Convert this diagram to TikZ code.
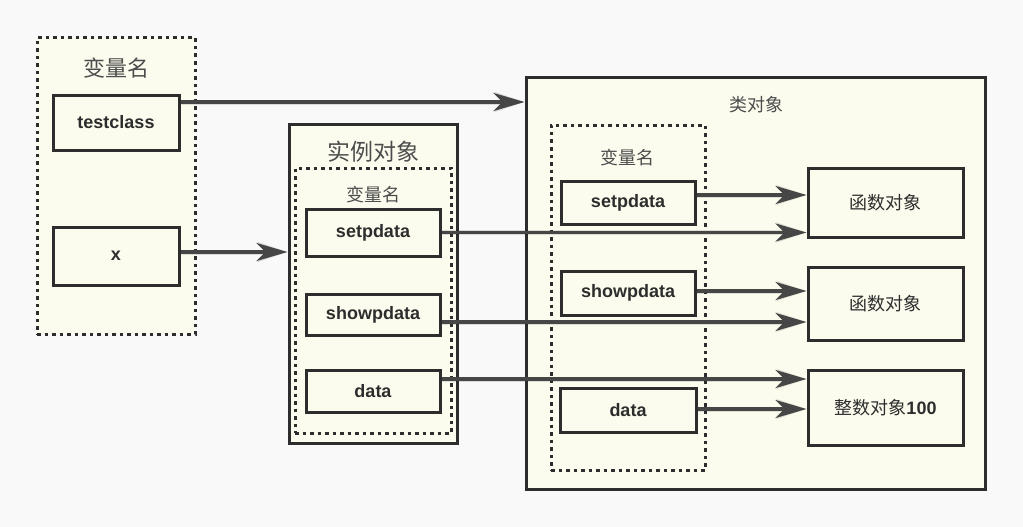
\documentclass[tikz,border=0pt]{standalone}
\usepackage{fontspec}
\setmainfont{Liberation Sans}
\newfontfamily\cjk{Noto Sans CJK SC}
\usetikzlibrary{arrows.meta}
\definecolor{ivory}{RGB}{252,252,238}
\definecolor{bg}{RGB}{249,249,249}
\definecolor{ink}{RGB}{45,45,45}
\definecolor{arr}{RGB}{70,70,70}
\tikzset{
  box/.style={draw=ink, line width=3pt, fill=ivory, rectangle, inner sep=0pt, font=\bfseries\fontsize{18}{21}\selectfont, text=ink},
  dotbox/.style={draw=ink, line width=3pt, fill=ivory, rectangle, inner sep=0pt, dash pattern=on 3.5pt off 4pt},
  solidbox/.style={draw=ink, line width=3pt, fill=ivory, rectangle, inner sep=0pt},
  cjklabel/.style={text=ink!85, inner sep=0pt},
  link/.style={draw=arr, line width=3.2pt, -{Stealth[length=31pt,width=18pt,inset=9pt]}},
  linkshadow/.style={draw=black, opacity=0.12, line width=5pt, -{Stealth[length=30pt,width=20pt,inset=9pt]}}
}
\newcommand{\pbox}[6]{% name, x1, y1, x2, y2, style
  \node[#6, minimum width={(#4-#2)*1pt}, minimum height={(#5-#3)*1pt}] (#1) at ({(#2+#4)/2},{(#3+#5)/2}) {};}
\begin{document}
\begin{tikzpicture}[x=1pt,y=-1pt]
\fill[bg] (0,0) rectangle (1023,527);
\useasboundingbox (0,0) rectangle (1023,527);
% left variable names
\pbox{vars}{37}{38}{195}{334}{dotbox}
\node[cjklabel, font=\cjk\fontsize{22}{25}\selectfont] (varsl) at (116,68) {变量名};
\node[box, minimum width=126pt, minimum height=55pt] (tc) at (116,122.5) {testclass};
\node[box, minimum width=126pt, minimum height=58pt] (xv) at (116,256) {x};
% instance object
\pbox{inst}{289}{124}{457}{443}{solidbox}
\node[cjklabel, font=\cjk\fontsize{23}{26}\selectfont] (instl) at (373,152) {实例对象};
\pbox{ivars}{295}{168}{451}{433}{dotbox}
\node[cjklabel, font=\cjk\fontsize{18}{21}\selectfont] (ivarsl) at (373,195) {变量名};
\node[box, minimum width=134pt, minimum height=47pt] (is) at (373,232.5) {setpdata};
\node[box, minimum width=134pt, minimum height=41pt] (ish) at (373,314.5) {showpdata};
\node[box, minimum width=134pt, minimum height=42pt] (id) at (373,391) {data};
% class object
\pbox{cls}{526}{78}{985}{489}{solidbox}
\node[cjklabel, font=\cjk\fontsize{18}{21}\selectfont] (clsl) at (756,105) {类对象};
\pbox{cvars}{551}{125}{705}{470}{dotbox}
\node[cjklabel, font=\cjk\fontsize{18}{21}\selectfont] (cvarsl) at (627,158) {变量名};
\node[box, minimum width=134pt, minimum height=43pt] (cs) at (628,202.5) {setpdata};
\node[box, minimum width=134pt, minimum height=44pt] (csh) at (628,293) {showpdata};
\node[box, minimum width=136pt, minimum height=44pt] (cd) at (628,410) {data};
\node[box, minimum width=155pt, minimum height=69pt, font=\cjk\fontsize{18}{21}\selectfont] (f1) at (885.5,202.5) {函数对象};
\node[box, minimum width=155pt, minimum height=73pt, font=\cjk\fontsize{18}{21}\selectfont] (f2) at (885.5,303.5) {函数对象};
\node[box, minimum width=155pt, minimum height=75pt, font=\fontsize{18}{21}\selectfont] (n1) at (885.5,407.5) {{\cjk 整数对象}\textbf{100}};
% arrows: shadows
\begin{scope}[xshift=2pt, yshift=-5pt]
\draw[linkshadow] ([yshift=20.5pt]tc.east) -- ([yshift=20.5pt]tc.east -| cls.west);
\draw[linkshadow] ([yshift=4pt]xv.east) -- ([yshift=4pt]xv.east -| inst.west);
\draw[linkshadow] (is.east) -- (is.east -| f1.west);
\draw[linkshadow] ([yshift=-7.5pt]ish.east) -- ([yshift=-7.5pt]ish.east -| f2.west);
\draw[linkshadow] ([yshift=12pt]id.east) -- ([yshift=12pt]id.east -| n1.west);
\draw[linkshadow] ([yshift=7.5pt]cs.east) -- ([yshift=7.5pt]cs.east -| f1.west);
\draw[linkshadow] ([yshift=2pt]csh.east) -- ([yshift=2pt]csh.east -| f2.west);
\draw[linkshadow] ([yshift=1pt]cd.east) -- ([yshift=1pt]cd.east -| n1.west);
\end{scope}
% arrows
\draw[link] ([yshift=20.5pt]tc.east) -- ([yshift=20.5pt]tc.east -| cls.west);
\draw[link] ([yshift=4pt]xv.east) -- ([yshift=4pt]xv.east -| inst.west);
\draw[link] (is.east) -- (is.east -| f1.west);
\draw[link] ([yshift=-7.5pt]ish.east) -- ([yshift=-7.5pt]ish.east -| f2.west);
\draw[link] ([yshift=12pt]id.east) -- ([yshift=12pt]id.east -| n1.west);
\draw[link] ([yshift=7.5pt]cs.east) -- ([yshift=7.5pt]cs.east -| f1.west);
\draw[link] ([yshift=2pt]csh.east) -- ([yshift=2pt]csh.east -| f2.west);
\draw[link] ([yshift=1pt]cd.east) -- ([yshift=1pt]cd.east -| n1.west);
\end{tikzpicture}
\end{document}
